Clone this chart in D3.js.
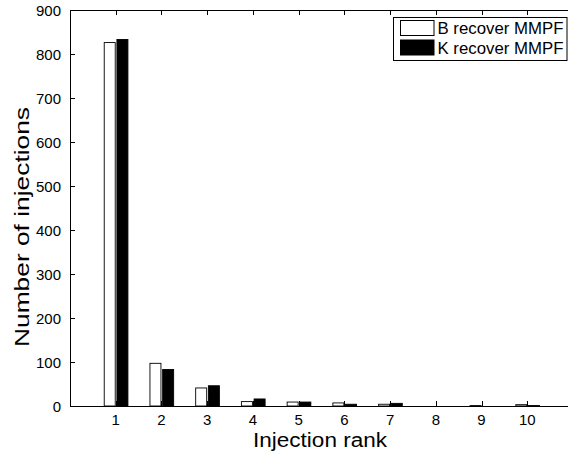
<!DOCTYPE html>
<html><head><meta charset="utf-8">
<script src="https://cdn.jsdelivr.net/npm/d3@7"></script>
<style>
html,body{margin:0;padding:0;background:#fff;overflow:hidden;}
text{font-family:"Liberation Sans",Arial,Helvetica,sans-serif;fill:#000;}
</style></head>
<body><svg id="c" width="568" height="455"></svg>
<script>
const categories = [1,2,3,4,5,6,7,8,9,10];
const seriesNames = ["B recover MMPF","K recover MMPF"];
const bValues = [826, 97, 41, 10, 9, 7, 4, 0, 1, 3];
const kValues = [833, 83, 46, 16, 9, 4, 6, 0, 0, 1];
const yTicks = [0,100,200,300,400,500,600,700,800,900];
const seriesFill = ["#ffffff","#000000"];

const svg = d3.select("#c");
const L = 70, R = 573, T = 10, B = 406;
const x = d3.scaleLinear().domain([0,11]).range([L,R]);
const y = d3.scaleLinear().domain([0,900]).range([B,T]);
const xs = d3.scaleBand().domain(seriesNames).range([-11.5,12.2]).paddingInner(0.134);

const data = [bValues, kValues];
const g = svg.append("g");
seriesNames.forEach((s,si)=>{
  g.selectAll(null).data(categories).enter().append("rect")
    .attr("x", (c)=> x(c) + xs(s))
    .attr("width", xs.bandwidth())
    .attr("y", (c,i)=> y(data[si][i]))
    .attr("height", (c,i)=> y(0) - y(data[si][i]))
    .attr("fill", seriesFill[si])
    .attr("stroke", "#000")
    .attr("stroke-width", 0.9);
});

// axes box
const ax = svg.append("g").attr("stroke","#000").attr("stroke-width",1).attr("fill","none");
ax.append("line").attr("x1",L).attr("x2",R).attr("y1",B+0.5).attr("y2",B+0.5);
ax.append("line").attr("x1",L).attr("x2",R).attr("y1",T+0.5).attr("y2",T+0.5);
ax.append("line").attr("x1",L+0.5).attr("x2",L+0.5).attr("y1",T).attr("y2",B+1);
ax.append("line").attr("x1",R-0.5).attr("x2",R-0.5).attr("y1",T).attr("y2",B+1);

const tl = 5;
categories.forEach(c=>{
  const px = Math.round(x(c))+0.5;
  ax.append("line").attr("x1",px).attr("x2",px).attr("y1",B).attr("y2",B-tl);
  ax.append("line").attr("x1",px).attr("x2",px).attr("y1",T).attr("y2",T+tl);
});
yTicks.forEach(t=>{
  const py = Math.round(y(t))+0.5;
  ax.append("line").attr("x1",L).attr("x2",L+tl).attr("y1",py).attr("y2",py);
  ax.append("line").attr("x1",R).attr("x2",R-tl).attr("y1",py).attr("y2",py);
});

// tick labels
svg.append("g").selectAll("text").data(categories).enter().append("text")
  .attr("x", d=>x(d)).attr("y", 425)
  .attr("text-anchor","middle").attr("font-size",15).text(d=>d);
svg.append("g").selectAll("text").data(yTicks).enter().append("text")
  .attr("x", 61).attr("y", d=>y(d)+5.5)
  .attr("text-anchor","end").attr("font-size",15).text(d=>d);

// axis labels
svg.append("text").attr("x",320).attr("y",447).attr("text-anchor","middle")
  .attr("font-size",20).attr("textLength",134).attr("lengthAdjust","spacingAndGlyphs")
  .text("Injection rank");
svg.append("text").attr("transform","translate(29,227) rotate(-90)").attr("text-anchor","middle")
  .attr("font-size",21).attr("textLength",240).attr("lengthAdjust","spacingAndGlyphs")
  .text("Number of injections");

// legend
const lg = svg.append("g");
lg.append("rect").attr("x",393.5).attr("y",17.5).attr("width",173.5).attr("height",43)
  .attr("fill","#fff").attr("stroke","#000").attr("stroke-width",1);
seriesNames.forEach((s,i)=>{
  const yy = [20.5,40][i];
  lg.append("rect").attr("x",400.5).attr("y",yy).attr("width",33.5).attr("height",15)
    .attr("fill",seriesFill[i]).attr("stroke","#000").attr("stroke-width",1);
  lg.append("text").attr("x",437.5).attr("y",[34.3,54][i]).attr("font-size",17)
    .attr("textLength",126).attr("lengthAdjust","spacingAndGlyphs").text(s);
});
</script></body></html>
